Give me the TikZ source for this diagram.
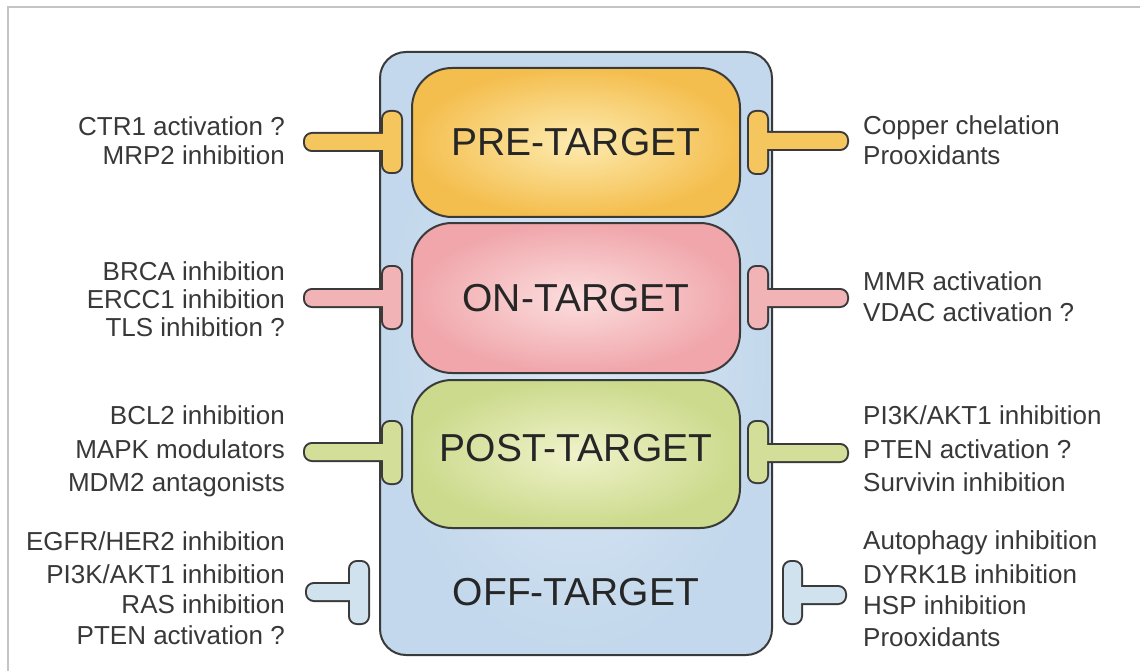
\documentclass[tikz,border=0pt]{standalone}
\usepackage{fontspec}
\setmainfont{Liberation Sans}
\definecolor{txtgray}{HTML}{383838}
\definecolor{edgegray}{HTML}{3A3A3A}
\definecolor{framegray}{HTML}{C4C4C4}
\definecolor{blueout}{HTML}{C3D8EC}
\definecolor{bluein}{HTML}{DCE8F4}
\definecolor{preout}{HTML}{F4BE4E}
\definecolor{prein}{HTML}{FDEBB0}
\definecolor{onout}{HTML}{F0A6AB}
\definecolor{onin}{HTML}{FCDEDE}
\definecolor{postout}{HTML}{CBDA8C}
\definecolor{postin}{HTML}{F0F2CA}
\definecolor{preT}{HTML}{F6C65E}
\definecolor{onT}{HTML}{F2B3B7}
\definecolor{postT}{HTML}{D3DF98}
\definecolor{offT}{HTML}{CFE2EE}
\tikzset{
  outerbox/.style={draw=edgegray, line width=2pt, rounded corners=26pt,
    inner color=bluein, outer color=blueout, minimum width=392pt, minimum height=603pt},
  stage/.style={draw=edgegray, line width=2pt, rounded corners=40pt,
    minimum width=328pt, inner sep=0pt, text=black!85,
    font=\fontsize{39}{44}\selectfont},
  stagetext/.style={text=black!85, inner sep=0pt, font=\fontsize{39}{44}\selectfont},
  lblL/.style={anchor=base east, inner sep=0pt, text=txtgray, font=\fontsize{26}{30}\selectfont},
  lblR/.style={anchor=base west, inner sep=0pt, text=txtgray, font=\fontsize{26}{30}\selectfont},
  tout/.style={draw=edgegray, line width=4pt, rounded corners=7pt},
  tfill/.style={rounded corners=7pt},
}
% #1 stem x1, #2 stem x2, #3 stem y centre, #4 bar x1, #5 bar x2, #6 bar y1, #7 bar y2, #8 colour
\newcommand{\inhT}[8]{%
  \draw[tout] (#1,#3-8) rectangle (#2,#3+8);
  \draw[tout] (#4,#6) rectangle (#5,#7);
  \fill[tfill, #8] (#1,#3-8) rectangle (#2,#3+8);
  \fill[tfill, #8] (#4,#6) rectangle (#5,#7);
}
\begin{document}
\begin{tikzpicture}[x=1pt,y=-1pt]
\useasboundingbox (0,0) rectangle (1140,671);
\fill[white] (0,0) rectangle (1140,671);
\draw[framegray, line width=2pt] (8,671) -- (8,7) -- (1140,7);

% outer cell
\node[outerbox] (cell) at (576,353.5) {};

% stages
\node[stage, minimum height=149pt, inner color=prein, outer color=preout] (pre) at (576,142.5) {PRE-TARGET};
\node[stage, minimum height=150pt, inner color=onin, outer color=onout] (on) at (576,298) {ON-TARGET};
\node[stage, minimum height=148pt, inner color=postin, outer color=postout] (post) at (576,454) {};
\node[stagetext] (posttxt) at (576,448) {POST-TARGET};
\node[stagetext] (off) at (576,592) {OFF-TARGET};

% inhibitor symbols, left
\inhT{305}{392}{142}{383}{401}{112}{172}{preT}
\inhT{305}{392}{298}{383}{401}{267}{328}{onT}
\inhT{305}{392}{452}{383}{401}{422}{483}{postT}
\inhT{307}{360}{592}{350}{368}{562}{623}{offT}
% inhibitor symbols, right
\inhT{758}{847}{141}{749}{767}{112}{173}{preT}
\inhT{758}{847}{298}{749}{767}{267}{328}{onT}
\inhT{758}{847}{453}{749}{767}{422}{482}{postT}
\inhT{792}{845}{595}{784}{801}{562}{623}{offT}

% left labels
\node[lblL] (l1a) at (285,136) {CTR1 activation ?};
\node[lblL] (l1b) at (285,165) {MRP2 inhibition};
\node[lblL] (l2a) at (285,280) {BRCA inhibition};
\node[lblL] (l2b) at (285,308) {ERCC1 inhibition};
\node[lblL] (l2c) at (285,336) {TLS inhibition ?};
\node[lblL] (l3a) at (285,424) {BCL2 inhibition};
\node[lblL] (l3b) at (285,458) {MAPK modulators};
\node[lblL] (l3c) at (285,491) {MDM2 antagonists};
\node[lblL] (l4a) at (285,550) {EGFR/HER2 inhibition};
\node[lblL] (l4b) at (285,583) {PI3K/AKT1 inhibition};
\node[lblL] (l4c) at (285,613) {RAS inhibition};
\node[lblL] (l4d) at (285,644) {PTEN activation ?};

% right labels
\node[lblR] (r1a) at (863,135) {Copper chelation};
\node[lblR] (r1b) at (863,165) {Prooxidants};
\node[lblR] (r2a) at (863,290) {MMR activation};
\node[lblR] (r2b) at (863,321) {VDAC activation ?};
\node[lblR] (r3a) at (863,424) {PI3K/AKT1 inhibition};
\node[lblR] (r3b) at (863,458) {PTEN activation ?};
\node[lblR] (r3c) at (863,491) {Survivin inhibition};
\node[lblR] (r4a) at (863,549) {Autophagy inhibition};
\node[lblR] (r4b) at (863,583) {DYRK1B inhibition};
\node[lblR] (r4c) at (863,614) {HSP inhibition};
\node[lblR] (r4d) at (863,646) {Prooxidants};
\end{tikzpicture}
\end{document}
